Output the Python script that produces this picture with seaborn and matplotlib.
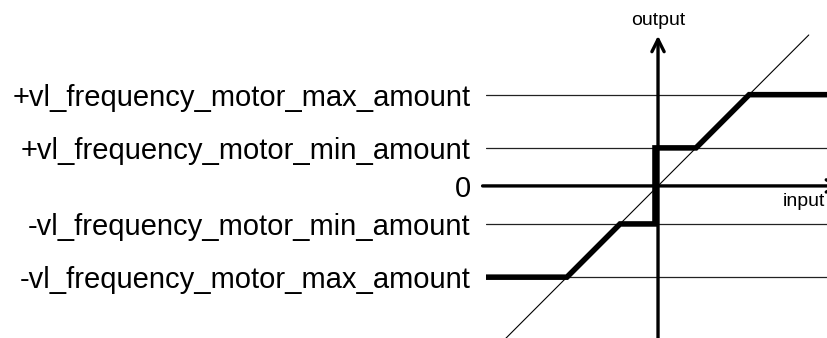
import numpy as np
import pandas as pd
import matplotlib
matplotlib.use("Agg")
import matplotlib.pyplot as plt
import seaborn as sns

# levels (min = 1 unit, max read as ~2.4 units)
level_values = [2.4, 1.0, 0.0, -1.0, -2.4]
level_labels = ["+vl_frequency_motor_max_amount", "+vl_frequency_motor_min_amount", "0",
                "-vl_frequency_motor_min_amount", "-vl_frequency_motor_max_amount"]

# transfer curve (input -> output)
curve_in = [-4.53, -2.4, -1.0, -0.08, -0.08, 1.0, 2.4, 4.45]
curve_out = [-2.4, -2.4, -1.0, -1.0, 1.0, 1.0, 2.4, 2.4]

# identity line
ident_in = [-4.03, 3.97]
ident_out = [-4.03, 3.97]

sns.set_style("white")
plt.rcParams['font.family'] = ['Liberation Sans', 'DejaVu Sans']
plt.rcParams['text.color'] = 'black'
plt.rcParams['ytick.color'] = 'black'

fig = plt.figure(figsize=(8.27, 3.38), dpi=100)
ax = fig.add_axes([486 / 827, 0, 1 - 486 / 827, 1])
ax.set_xlim(-4.53, 4.45)
ax.set_ylim(-4.0, 4.89)
for s in ax.spines.values():
    s.set_visible(False)
ax.set_xticks([])
ax.set_yticks(level_values)
ax.set_yticklabels(level_labels, fontsize=21, color="black")
ax.tick_params(axis='y', length=0, pad=11)

# thin level lines
for v in level_values:
    if v != 0:
        ax.axhline(v, color="#222222", lw=0.9, zorder=1)

# identity diagonal
sns.lineplot(x=ident_in, y=ident_out, ax=ax, color="black", lw=0.8, zorder=2)

# axes with arrows
ax.annotate("", xy=(4.85, 0), xytext=(-4.62, 0),
            arrowprops=dict(arrowstyle="->", lw=2.4, color="black", mutation_scale=22,
                            shrinkA=0, shrinkB=0),
            annotation_clip=False, zorder=3)
ax.annotate("", xy=(0, 3.95), xytext=(0, -4.1),
            arrowprops=dict(arrowstyle="->", lw=2.4, color="black", mutation_scale=22,
                            shrinkA=0, shrinkB=0),
            annotation_clip=False, zorder=3)

# bold transfer curve
curve = pd.DataFrame({"input": curve_in, "output": curve_out})
sns.lineplot(data=curve, x="input", y="output", ax=ax, sort=False, estimator=None,
             color="black", lw=4.0, zorder=4, solid_joinstyle="miter")
ax.set_xlabel("")
ax.set_ylabel("")

ax.text(0, 4.35, "output", ha="center", va="center", fontsize=14)
ax.text(3.29, -0.42, "input", ha="left", va="center", fontsize=14)

fig.savefig("out.png", dpi=100)
